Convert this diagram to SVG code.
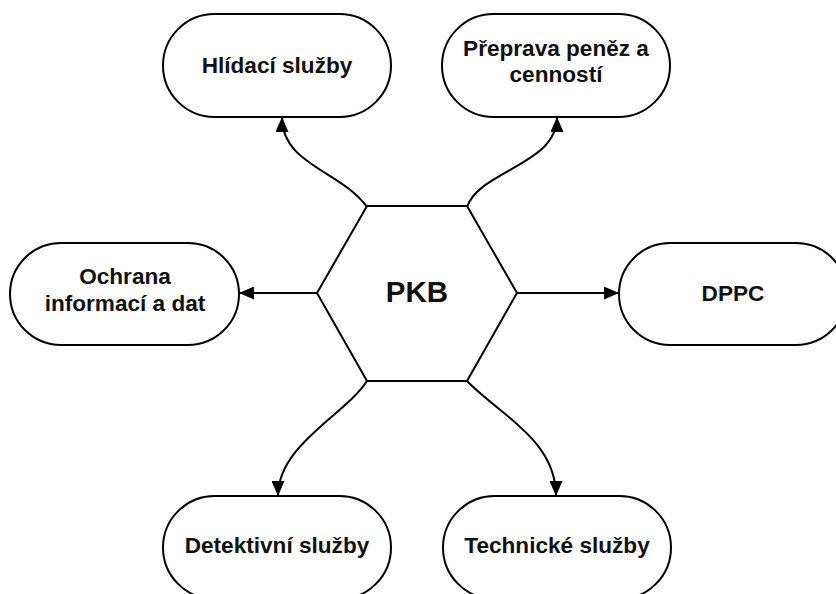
<svg xmlns="http://www.w3.org/2000/svg" width="836" height="594" viewBox="0 0 836 594">
<style>
.n{fill:#fff;stroke:#000;stroke-width:2}
.t{font-family:"Liberation Sans",Arial,sans-serif;font-weight:bold;font-size:22.6px;fill:#111;text-anchor:middle}
.c{fill:none;stroke:#000;stroke-width:2}
</style>
<defs>
<marker id="ah" viewBox="0 0 15 13" refX="15" refY="6.5" markerWidth="15" markerHeight="13" markerUnits="userSpaceOnUse" orient="auto">
<path d="M0,0 L15,6.5 L0,13 Z" fill="#000"/>
</marker>
</defs>
<rect width="836" height="594" fill="#fff"/>
<g id="connectors">
<path class="c" d="M367,207 C340,170 282,165 282,117" marker-end="url(#ah)"/>
<path class="c" d="M467,207 C480,170 557,165 557,117" marker-end="url(#ah)"/>
<path class="c" d="M317,293 L239,293" marker-end="url(#ah)"/>
<path class="c" d="M517,293 L619,293" marker-end="url(#ah)"/>
<path class="c" d="M367,381 C345,415 278,445 278,496" marker-end="url(#ah)"/>
<path class="c" d="M467,381 C500,415 556,440 556,496" marker-end="url(#ah)"/>
</g>
<g id="pkb">
<polygon class="n" points="367,206 467,206 517,293 467,381 367,381 317,293"/>
<text class="t" x="417" y="302" style="font-size:29.5px">PKB</text>
</g>
<g id="hlidaci">
<rect class="n" x="163" y="14" width="228" height="103" rx="51.5"/>
<text class="t" x="277" y="73">Hlídací služby</text>
</g>
<g id="preprava">
<rect class="n" x="442" y="14" width="228" height="103" rx="51.5"/>
<text class="t" x="556" y="56">Přeprava peněz a</text>
<text class="t" x="556" y="82">cenností</text>
</g>
<g id="ochrana">
<rect class="n" x="10" y="243" width="229" height="102" rx="51"/>
<text class="t" x="125" y="284">Ochrana</text>
<text class="t" x="125" y="311">informací a dat</text>
</g>
<g id="dppc">
<rect class="n" x="619" y="243" width="228" height="102" rx="51"/>
<text class="t" x="733" y="301">DPPC</text>
</g>
<g id="detektivni">
<rect class="n" x="163" y="496" width="228" height="103" rx="51.5"/>
<text class="t" x="277" y="553">Detektivní služby</text>
</g>
<g id="technicke">
<rect class="n" x="443" y="496" width="228" height="103" rx="51.5"/>
<text class="t" x="557" y="553">Technické služby</text>
</g>
</svg>
